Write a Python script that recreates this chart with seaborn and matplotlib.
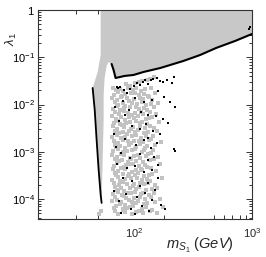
import numpy as np
import matplotlib
matplotlib.use("Agg")
import matplotlib.pyplot as plt
import seaborn as sns
from matplotlib.ticker import FixedLocator, FixedFormatter, NullFormatter

# ---- data (m in GeV, lambda given as log10) ----
# excluded region, grey fill outline
excl_m = [62.9, 62.9, 59.5, 54.3, 58.4, 62.9, 64.0, 65.2, 66.4, 66.4, 67.6, 70.1,
          72.7, 76.8, 79.6, 82.6, 97.3, 114.7, 137.5, 187.5, 285, 388, 519, 734, 1000, 1000]
excl_loglam = [0, -0.951, -1.311, -1.649, -2.748, -3.911, -4.080, -3.171, -2.326, -1.797,
               -1.438, -1.184, -1.099, -1.142, -1.268, -1.438, -1.395, -1.374, -1.311, -1.226,
               -1.078, -0.951, -0.803, -0.655, -0.507, 0]

# black edge of the excluded region
edge_m = [76.8, 79.6, 82.6, 97.3, 114.7, 137.5, 187.5, 285, 388, 519, 734, 1000]
edge_loglam = [-1.142, -1.268, -1.438, -1.395, -1.374, -1.311, -1.226, -1.078, -0.951, -0.803, -0.655, -0.507]

# steep black branch on the left
steep_m = [54.3, 56.4, 58.4, 60.6, 62.9, 64.0]
steep_loglam = [-1.649, -2.114, -2.748, -3.383, -3.911, -4.080]

# grey points
gray_m = [100, 108, 118, 126, 134, 146, 155, 166,
          79, 83, 89, 95, 104, 113, 120, 131, 142, 157,
          80, 86, 93, 98, 109, 117, 126, 138, 149, 170,
          78, 84, 91, 101, 106, 115, 129, 136, 153, 162,
          82, 87, 94, 99, 111, 122, 133, 145, 158, 181,
          79, 85, 90, 97, 107, 119, 127, 140, 148, 166,
          81, 88, 96, 103, 112, 118, 131, 137, 155, 174,
          78, 83, 92, 99, 105, 116, 124, 143, 151, 160,
          80, 86, 90, 100, 108, 121, 128, 135, 147, 183,
          79, 84, 93, 97, 110, 114, 130, 141, 156, 168,
          82, 88, 95, 102, 106, 117, 125, 138, 150, 176,
          78, 85, 91, 99, 111, 119, 132, 144, 159, 163,
          80, 87, 94, 103, 109, 115, 126, 136, 152, 188,
          81, 83, 90, 98, 105, 120, 129, 141, 147, 171,
          79, 86, 95, 101, 112, 118, 133, 139, 157, 165,
          78, 84, 92, 97, 107, 116, 124, 145, 150, 179,
          82, 88, 93, 104, 110, 121, 130, 137, 154, 168,
          80, 85, 96, 100, 108, 114, 127, 142, 148, 185,
          79, 87, 91, 98, 111, 119, 131, 135, 158, 173,
          81, 83, 94, 103, 106, 117, 125, 140, 151, 162,
          78, 86, 90, 99, 109, 122, 134, 146, 155, 192,
          80, 88, 95, 101, 113, 115, 128, 138, 149, 170,
          82, 84, 92, 97, 107, 120, 126, 143, 160, 177,
          79, 87, 93, 104, 110, 118, 132, 136, 152, 166,
          81, 85, 96, 100, 105, 116, 129, 141, 157, 186,
          78, 89, 91, 98, 112, 121, 124, 139, 147, 171,
          80, 83, 94, 102, 108, 114, 133, 145, 162, 196,
          82, 86, 95, 99, 111, 119, 127, 137, 154, 175,
          63.5, 61]
gray_loglam = [-1.57, -1.60, -1.55, -1.52, -1.50, -1.47, -1.45, -1.42,
               -1.65, -1.70, -1.67, -1.72, -1.66, -1.69, -1.64, -1.71, -1.68, -1.66,
               -1.79, -1.74, -1.81, -1.78, -1.76, -1.75, -1.80, -1.77, -1.82, -1.76,
               -1.86, -1.91, -1.84, -1.87, -1.92, -1.88, -1.86, -1.89, -1.85, -1.90,
               -1.95, -2.00, -1.97, -2.02, -1.96, -1.99, -1.94, -2.01, -1.98, -1.96,
               -2.09, -2.04, -2.11, -2.08, -2.06, -2.05, -2.10, -2.07, -2.12, -2.06,
               -2.16, -2.21, -2.14, -2.17, -2.22, -2.18, -2.16, -2.19, -2.15, -2.20,
               -2.25, -2.30, -2.27, -2.32, -2.26, -2.29, -2.24, -2.31, -2.28, -2.26,
               -2.39, -2.34, -2.41, -2.38, -2.36, -2.35, -2.40, -2.37, -2.42, -2.36,
               -2.46, -2.51, -2.44, -2.47, -2.52, -2.48, -2.46, -2.49, -2.45, -2.50,
               -2.55, -2.60, -2.57, -2.62, -2.56, -2.59, -2.54, -2.61, -2.58, -2.56,
               -2.69, -2.64, -2.71, -2.68, -2.66, -2.65, -2.70, -2.67, -2.72, -2.66,
               -2.76, -2.81, -2.74, -2.77, -2.82, -2.78, -2.76, -2.79, -2.75, -2.80,
               -2.85, -2.90, -2.87, -2.92, -2.86, -2.89, -2.84, -2.91, -2.88, -2.86,
               -2.99, -2.94, -3.01, -2.98, -2.96, -2.95, -3.00, -2.97, -3.02, -2.96,
               -3.06, -3.11, -3.04, -3.07, -3.12, -3.08, -3.06, -3.09, -3.05, -3.10,
               -3.15, -3.20, -3.17, -3.22, -3.16, -3.19, -3.14, -3.21, -3.18, -3.16,
               -3.29, -3.24, -3.31, -3.28, -3.26, -3.25, -3.30, -3.27, -3.32, -3.26,
               -3.36, -3.41, -3.34, -3.37, -3.42, -3.38, -3.36, -3.39, -3.35, -3.40,
               -3.45, -3.50, -3.47, -3.52, -3.46, -3.49, -3.44, -3.51, -3.48, -3.46,
               -3.59, -3.54, -3.61, -3.58, -3.56, -3.55, -3.60, -3.57, -3.62, -3.56,
               -3.66, -3.71, -3.64, -3.67, -3.72, -3.68, -3.66, -3.69, -3.65, -3.70,
               -3.75, -3.80, -3.77, -3.82, -3.76, -3.79, -3.74, -3.81, -3.78, -3.76,
               -3.89, -3.84, -3.91, -3.88, -3.86, -3.85, -3.90, -3.87, -3.92, -3.86,
               -3.96, -4.01, -3.94, -3.97, -4.02, -3.98, -3.96, -3.99, -3.95, -4.00,
               -4.05, -4.10, -4.07, -4.12, -4.06, -4.09, -4.04, -4.11, -4.08, -4.06,
               -4.19, -4.14, -4.21, -4.18, -4.16, -4.15, -4.20, -4.17, -4.22, -4.16,
               -4.26, -4.31, -4.24, -4.27, -4.32, -4.28, -4.26, -4.29, -4.25, -4.30,
               -4.25, -4.32]

# black points
black_m = [84, 86, 90, 96, 102, 108, 115, 122, 128, 136, 142, 150, 158, 165, 175, 186,
           197, 212, 230, 240, 178, 200, 225, 245, 160, 140, 118, 95, 82, 105, 132, 150,
           172, 196, 214, 88, 112, 128, 145, 165, 185, 80, 98, 120, 138, 158, 176, 92,
           108, 130, 150, 168, 84, 102, 118, 140, 162, 180, 95, 112, 128, 150, 170, 80,
           100, 122, 142, 160, 190, 88, 110, 135, 152, 204, 92, 118, 98, 83, 178, 150,
           240, 246, 940, 968]
black_loglam = [-1.63, -1.66, -1.62, -1.70, -1.75, -1.68, -1.60, -1.55, -1.58, -1.52, -1.49,
                -1.56, -1.47, -1.45, -1.44, -1.50, -1.52, -1.48, -1.55, -1.42, -1.72, -1.83,
                -1.95, -2.05, -1.90, -1.95, -1.86, -1.93, -2.05, -2.12, -2.15, -2.22, -2.25,
                -2.30, -2.40, -2.35, -2.45, -2.52, -2.42, -2.55, -2.62, -2.62, -2.72, -2.85,
                -2.75, -2.92, -2.82, -3.02, -3.12, -3.05, -3.18, -3.10, -3.25, -3.35, -3.30,
                -3.42, -3.38, -3.55, -3.55, -3.62, -3.72, -3.65, -3.80, -3.82, -3.90, -3.95,
                -3.88, -4.02, -4.12, -4.05, -4.20, -4.15, -4.25, -4.20, -4.30, -4.32, -2.22,
                -2.90, -3.28, -2.70, -2.93, -2.98, -0.40, -0.36]

x_minor = [40, 60, 200, 500, 600, 700, 800, 900]
y_major = [1e-4, 1e-3, 1e-2, 1e-1, 1]
y_labels = ["$10^{-4}$", "$10^{-3}$", "$10^{-2}$", "$10^{-1}$", "$1$"]

# ---- style ----
sns.set_style("ticks")
plt.rcParams["mathtext.fontset"] = "custom"
plt.rcParams["mathtext.rm"] = "Liberation Sans"
plt.rcParams["mathtext.it"] = "Liberation Sans:italic"
plt.rcParams["mathtext.default"] = "it"
plt.rcParams["font.family"] = ["Liberation Sans", "DejaVu Sans"]

fig = plt.figure(figsize=(2.66, 2.57), dpi=100)
ax = fig.add_axes([38 / 266, 1 - 219 / 257, 214 / 266, 209 / 257])

lam = lambda v: 10.0 ** np.asarray(v)

ax.fill(excl_m, lam(excl_loglam), color="#c8c8c8", lw=0, zorder=1)

sns.scatterplot(x=gray_m, y=lam(gray_loglam), ax=ax, color="#c2c2c2", marker="s",
                s=5.5, linewidth=0, zorder=2)
sns.scatterplot(x=black_m, y=lam(black_loglam), ax=ax, color="black", marker="s",
                s=3.0, linewidth=0, zorder=3)
ax.plot(edge_m, lam(edge_loglam), color="black", lw=1.5, zorder=4)
ax.plot(steep_m, lam(steep_loglam), color="black", lw=1.3, zorder=4)

ax.set_xscale("log")
ax.set_yscale("log")
ax.set_xlim(20, 1000)
ax.set_ylim(3.8e-5, 1)

ax.xaxis.set_major_locator(FixedLocator([100, 1000]))
ax.xaxis.set_major_formatter(NullFormatter())
ax.xaxis.set_minor_locator(FixedLocator(x_minor))
ax.xaxis.set_minor_formatter(NullFormatter())
ax.yaxis.set_major_locator(FixedLocator(y_major))
ax.yaxis.set_major_formatter(FixedFormatter(y_labels))

ax.tick_params(axis="both", which="both", direction="in", top=True, right=True,
               colors="#333333", labelcolor="black", width=0.7)
ax.tick_params(axis="y", which="major", length=4, labelsize=8, pad=2)
ax.tick_params(axis="y", which="minor", length=2.5)
ax.tick_params(axis="x", which="major", length=0)
ax.tick_params(axis="x", which="minor", length=3)
for sp in ax.spines.values():
    sp.set_linewidth(0.8)
    sp.set_color("#333333")

for xv, dx in [(100, 6), (1000, 0)]:
    ax.annotate("$10^{%d}$" % int(np.log10(xv)), xy=(xv, 0), xycoords=("data", "axes fraction"),
                xytext=(dx, -5), textcoords="offset points", ha="center", va="top", fontsize=8)

ax.set_xlabel(r"$m_{S_1}\ (GeV)$", fontsize=10.5, loc="right")
ax.xaxis.set_label_coords((234 - 38) / 214, -(245 - 219) / 209)
ax.xaxis.label.set_va("center")
ax.set_ylabel(r"$\lambda_1$", fontsize=9.5)
ax.yaxis.set_label_coords(-0.09, 0.86)

fig.savefig("out.png", dpi=100)
